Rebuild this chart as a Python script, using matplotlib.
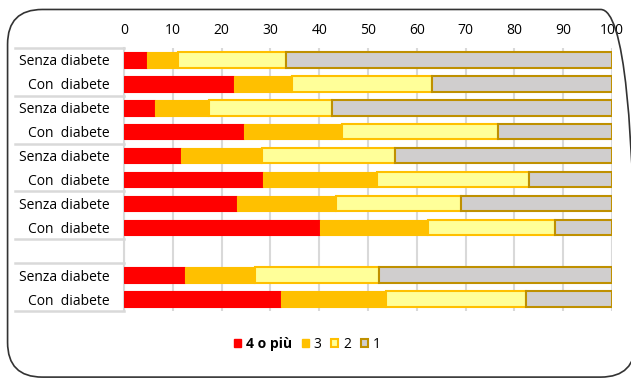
import matplotlib.pyplot as plt
from matplotlib.patches import FancyBboxPatch, Patch
import numpy as np

# Dati (percentuali)
etichette = ['Senza diabete', 'Con  diabete'] * 5
posizioni = [0, 1, 2, 3, 4, 5, 6, 7, 9, 10]
quattro_piu = [4.8, 22.5, 6.4, 24.5, 11.7, 28.5, 23.2, 40.2, 12.5, 32.2]
tre = [6.2, 11.9, 11.0, 20.2, 16.5, 23.3, 20.2, 22.0, 14.3, 21.4]
due = [22.2, 28.8, 25.2, 31.9, 27.4, 31.1, 25.6, 26.1, 25.5, 28.8]
uno = [100 - a - b - c for a, b, c in zip(quattro_piu, tre, due)]
separatori = [-0.5, 1.5, 3.5, 5.5, 7.5, 8.5, 10.5]

plt.rcParams['font.family'] = ['Open Sans', 'DejaVu Sans']

fig = plt.figure(figsize=(6.31, 3.79), dpi=100)
ax = fig.add_axes([0.1965, 0.1794, 0.7734, 0.694])

# cornice arrotondata
cornice = FancyBboxPatch((0.012, 0.005), 0.995, 0.97,
                         boxstyle='round,pad=0,rounding_size=0.055',
                         transform=fig.transFigure, facecolor='none',
                         edgecolor='#333333', linewidth=1.2, mutation_aspect=631 / 379)
fig.patches.append(cornice)

h = 0.65
ax.barh(posizioni, quattro_piu, height=h, color='#FF0000', edgecolor='#FF0000',
        linewidth=0.8, label='4 o più', zorder=3)
left = np.array(quattro_piu)
ax.barh(posizioni, tre, height=h, left=left, color='#FFC000', edgecolor='#FFC000',
        linewidth=0.8, label='3', zorder=3)
left = left + np.array(tre)
ax.barh(posizioni, due, height=h, left=left, color='#FFFF99', edgecolor='#FFC000',
        linewidth=1.5, label='2', zorder=3)
left = left + np.array(due)
ax.barh(posizioni, uno, height=h, left=left, color='#D0CECE', edgecolor='#BF9000',
        linewidth=1.5, label='1', zorder=3)

ax.set_xlim(0, 100)
ax.set_ylim(10.5, -0.5)
ax.set_xticks(range(0, 101, 10))
ax.xaxis.tick_top()
ax.tick_params(axis='x', length=0, pad=7, labelsize=10)
ax.set_yticks(posizioni)
ax.set_yticklabels(etichette)
ax.tick_params(axis='y', length=0, pad=10, labelsize=10)
ax.grid(True, axis='x', color='#D9D9D9', linewidth=1.5, zorder=0)

for s in ['top', 'right', 'bottom']:
    ax.spines[s].set_visible(False)
ax.spines['left'].set_color('#D9D9D9')
ax.spines['left'].set_linewidth(1.5)

# linee di separazione nella zona etichette
for y in separatori:
    ax.plot([-0.223, 0], [y, y], transform=ax.get_yaxis_transform(),
            color='#D9D9D9', linewidth=1.8, clip_on=False)

handles = [Patch(facecolor='#FF0000', edgecolor='#FF0000', label='4 o più'),
           Patch(facecolor='#FFC000', edgecolor='#FFC000', label='3'),
           Patch(facecolor='#FFFF99', edgecolor='#FFC000', linewidth=1.5, label='2'),
           Patch(facecolor='#D0CECE', edgecolor='#BF9000', linewidth=1.5, label='1')]
leg = fig.legend(handles=handles, loc='center', bbox_to_anchor=(0.487, 0.092), ncol=4,
                 frameon=False, handlelength=0.5, handleheight=0.5, handletextpad=0.35,
                 columnspacing=0.7, fontsize=10)
leg.get_texts()[0].set_fontweight('bold')

fig.savefig('out.png', dpi=100)
